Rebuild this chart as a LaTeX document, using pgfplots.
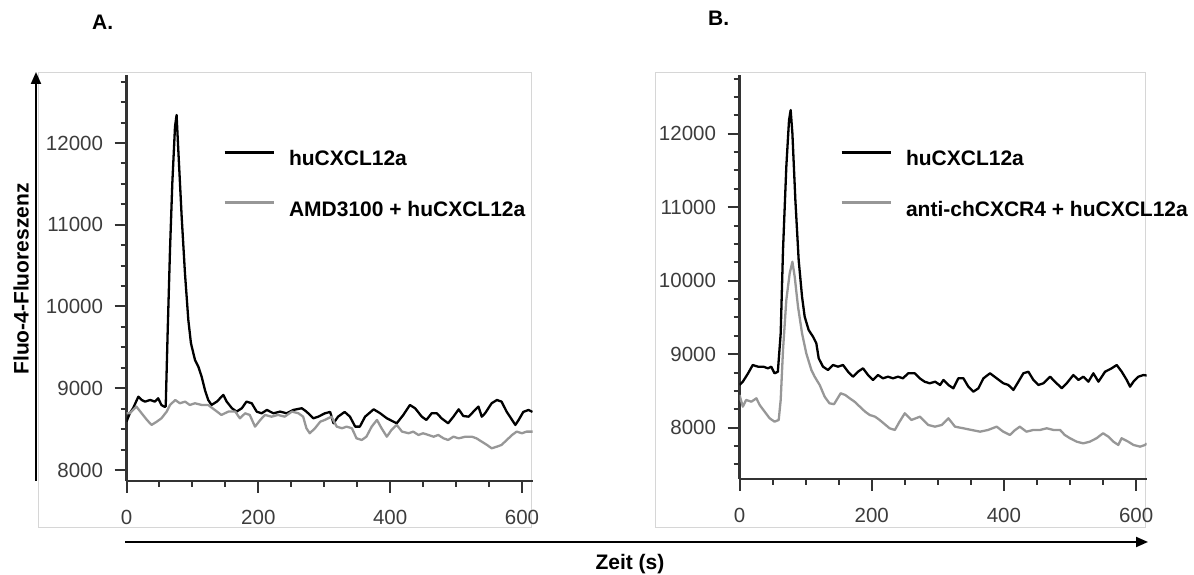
\documentclass[border=0pt]{standalone}
\usepackage{fontspec}
\setmainfont{Liberation Sans}
\usepackage{pgfplots}
\usepackage{pgfplotstable}
\pgfplotsset{compat=1.18}
\usetikzlibrary{arrows.meta}

\definecolor{axgray}{HTML}{333333}
\definecolor{curvegray}{HTML}{979797}
\definecolor{framegray}{HTML}{D6D6D6}
\definecolor{ticklab}{HTML}{3C3C3C}

\pgfplotstableread{
t v
0 8591
5 8693
10 8755
18 8897
23 8856
28 8836
36 8856
43 8836
48 8877
53 8795
57 8775
59.5 8775
62.4 9672
66 10692
69.5 11507
73.6 12200
76 12342
78.6 11914
83.7 11099
88.7 10406
93.8 9835
97.8 9550
103.9 9346
109 9264
114 9142
119 8979
124 8856
129 8795
137 8836
147 8918
152 8836
160 8755
167 8714
175 8755
182 8836
190 8816
197.5 8714
205 8693
213 8734
223 8693
233 8714
243 8693
253 8734
266 8755
273 8714
283.5 8632
291 8652
301 8693
309 8710
314 8571
321 8652
331 8710
339 8652
347 8530
354 8530
362 8652
375 8742
385 8693
395 8632
405 8591
410 8571
420 8673
430 8795
438 8754
448 8652
455 8612
463 8693
471 8693
478 8632
488 8571
496 8652
504 8742
511 8660
519 8652
526 8710
534 8775
539 8652
544 8693
554 8816
562 8856
569 8836
577 8710
585 8612
590 8551
595 8612
602 8710
610 8734
616 8710
}\Ablack

\pgfplotstableread{
t v
0 8693
5 8693
15 8775
23 8693
31 8612
38 8551
46 8591
53 8632
61 8714
66 8795
74 8856
81 8816
89 8836
96 8795
104 8816
114 8795
124 8795
134 8734
144 8673
154.5 8714
165 8714
172 8632
180 8693
187 8673
195 8530
203 8612
210 8673
220 8652
230 8673
240 8652
251 8714
261 8693
268 8652
273 8510
278 8449
286 8510
294 8591
301 8612
311 8652
319 8530
327 8510
334 8530
342 8510
349 8387
357 8367
364 8407
372 8530
380 8612
387 8510
395 8407
402 8489
410 8551
418 8469
428 8449
435 8469
443 8428
450 8449
458 8428
466 8407
473 8428
481 8387
488 8367
496 8407
504 8387
514 8407
524 8407
531 8387
539 8346
547 8306
554 8265
562 8285
569 8306
577 8367
585 8428
592 8469
600 8449
607 8469
616 8469
}\Agray

\pgfplotstableread{
t v
0 8581
5 8626
13 8740
20 8853
28 8830
36 8830
43 8808
48 8830
53 8740
58 8762
62.3 9284
65.8 10417
70.8 11550
74.9 12185
77.4 12321
80 12004
84.5 11097
89.5 10281
94.6 9782
98.6 9510
104.6 9329
111.2 9238
116.2 9148
119.8 8944
126.3 8830
133.9 8785
141.5 8853
149 8830
156.6 8853
164.2 8762
171.7 8694
179.3 8762
186.8 8808
194.4 8717
202 8649
209.5 8717
217 8672
224.7 8694
232.2 8672
239.8 8694
247.4 8672
255 8740
265 8740
272.6 8672
280 8626
287.7 8604
296 8626
303.4 8581
308.4 8649
316 8581
323.5 8536
331 8672
338.7 8672
346.2 8558
353.8 8490
361.4 8536
369 8672
379 8740
389 8672
399.2 8604
406.7 8581
414.3 8513
421.9 8626
429.4 8740
437 8762
444.6 8649
452.1 8581
459.7 8604
469.8 8694
477.3 8626
487.4 8536
495 8604
505 8717
512.7 8649
520.2 8694
527.8 8626
535.3 8740
543 8626
553 8762
563 8808
570.6 8853
578.2 8762
585.8 8649
590.8 8558
595.9 8626
603.4 8694
611 8717
616 8710
}\Bblack

\pgfplotstableread{
t v
0 8445
5 8286
10 8377
18 8354
25.5 8400
30.5 8309
38 8218
45.6 8128
53 8082
59.3 8105
62.3 8377
65.8 9057
70.8 9737
75.9 10100
80 10258
83.5 10054
88.5 9646
94.6 9284
101 9012
108.7 8785
113.7 8694
121.3 8581
128.8 8422
136 8332
143 8320
153 8468
160 8445
166.7 8400
174 8354
182 8286
190 8218
197 8173
205 8150
212 8105
218 8060
227 7992
235 7969
242 8080
250 8196
260 8105
273 8150
285.6 8037
295.7 8014
305.8 8037
316 8128
326 8014
338.6 7992
351 7969
364 7946
376 7969
389 8014
399 7946
409 7901
417 7969
424 8014
434 7946
444.5 7969
454.6 7969
464.7 7992
475 7969
485 7969
492 7901
500 7856
510 7810
520 7787
530 7810
540 7856
550 7924
558 7878
565.5 7810
573 7765
578 7856
588 7810
596 7765
606 7742
613.4 7765
616 7787
}\Bgray

\pgfplotsset{
  panel/.style={
    scale only axis, anchor=south west,
    axis lines=left,
    axis line style={-, line width=2.4bp, color=axgray},
    every outer x axis line/.append style={-},
    every outer y axis line/.append style={-},
    tick align=outside,
    major tick length=12bp, minor tick length=6bp,
    tick style={line width=2bp, color=axgray},
    xmin=0, xmax=616,
    xtick={0,200,400,600},
    minor xtick={50,100,150,250,300,350,450,500,550},
    ytick={8000,9000,10000,11000,12000},
    minor ytick={7500,7750,8250,8500,8750,9250,9500,9750,10250,10500,10750,11250,11500,11750,12250,12500,12750},
    scaled ticks=false,
    /pgf/number format/assume math mode=true,
    /pgf/number format/set thousands separator={},
    tick label style={font=\fontsize{20.5bp}{24bp}\selectfont, color=ticklab},
    yticklabel style={xshift=-8bp},
    xticklabel style={yshift=-14bp},
    legend cell align=left,
    legend image code/.code={\draw[##1, line width=3bp] (0bp,6.5bp) -- (49bp,6.5bp);},
    legend style={draw=none, fill=none, inner sep=0pt, outer sep=0pt,
      anchor=north west, row sep=33.7bp, column sep=14bp,
      nodes={inner sep=0pt, outer sep=0pt},
      font=\fontsize{21bp}{25bp}\selectfont\bfseries},
  },
  blk/.style={black, line width=2.3bp, line join=round},
  gry/.style={curvegray, line width=2.3bp, line join=round},
}

\begin{document}
\begin{tikzpicture}[x=1bp,y=1bp]
\useasboundingbox (0,0) rectangle (1194,575);
% frames
\draw[framegray, line width=1bp] (38,47) rectangle (531,502);
\draw[framegray, line width=1bp] (655,47) rectangle (1145,502);

\begin{axis}[panel, at={(126.5bp,94bp)}, width=406bp, height=406bp,
  ymin=7865, ymax=12832,
  legend style={at={(0.2377,0.8136)}}]
  \addplot[blk] table[x=t,y=v] {\Ablack};
  \addlegendentry{huCXCL12a}
  \addplot[gry] table[x=t,y=v] {\Agray};
  \addlegendentry{AMD3100 + huCXCL12a}
\end{axis}

\begin{axis}[panel, at={(739.5bp,96bp)}, width=407.2bp, height=404bp,
  ymin=7302, ymax=12799,
  legend style={at={(0.2468,0.8126)}}]
  \addplot[blk] table[x=t,y=v] {\Bblack};
  \addlegendentry{huCXCL12a}
  \addplot[gry] table[x=t,y=v] {\Bgray};
  \addlegendentry{anti-chCXCR4 + huCXCL12a}
\end{axis}

% outer axis arrows
\draw[black, line width=2bp, -{Triangle[width=10bp,length=12bp]}] (36,94) -- (36,503);
\draw[black, line width=2bp, -{Triangle[width=10bp,length=12bp]}] (125,33) -- (1148,33);

\node[rotate=90, font=\fontsize{21bp}{25bp}\selectfont\bfseries, inner sep=0pt] at (21,296) {Fluo-4-Fluoreszenz};
\node[anchor=base, font=\fontsize{21bp}{25bp}\selectfont\bfseries, inner sep=0pt] at (630,5) {Zeit (s)};
\node[anchor=base west, font=\fontsize{21bp}{25bp}\selectfont\bfseries, inner sep=0pt] at (92,545) {A.};
\node[anchor=base west, font=\fontsize{21bp}{25bp}\selectfont\bfseries, inner sep=0pt] at (708,549) {B.};
\end{tikzpicture}
\end{document}
